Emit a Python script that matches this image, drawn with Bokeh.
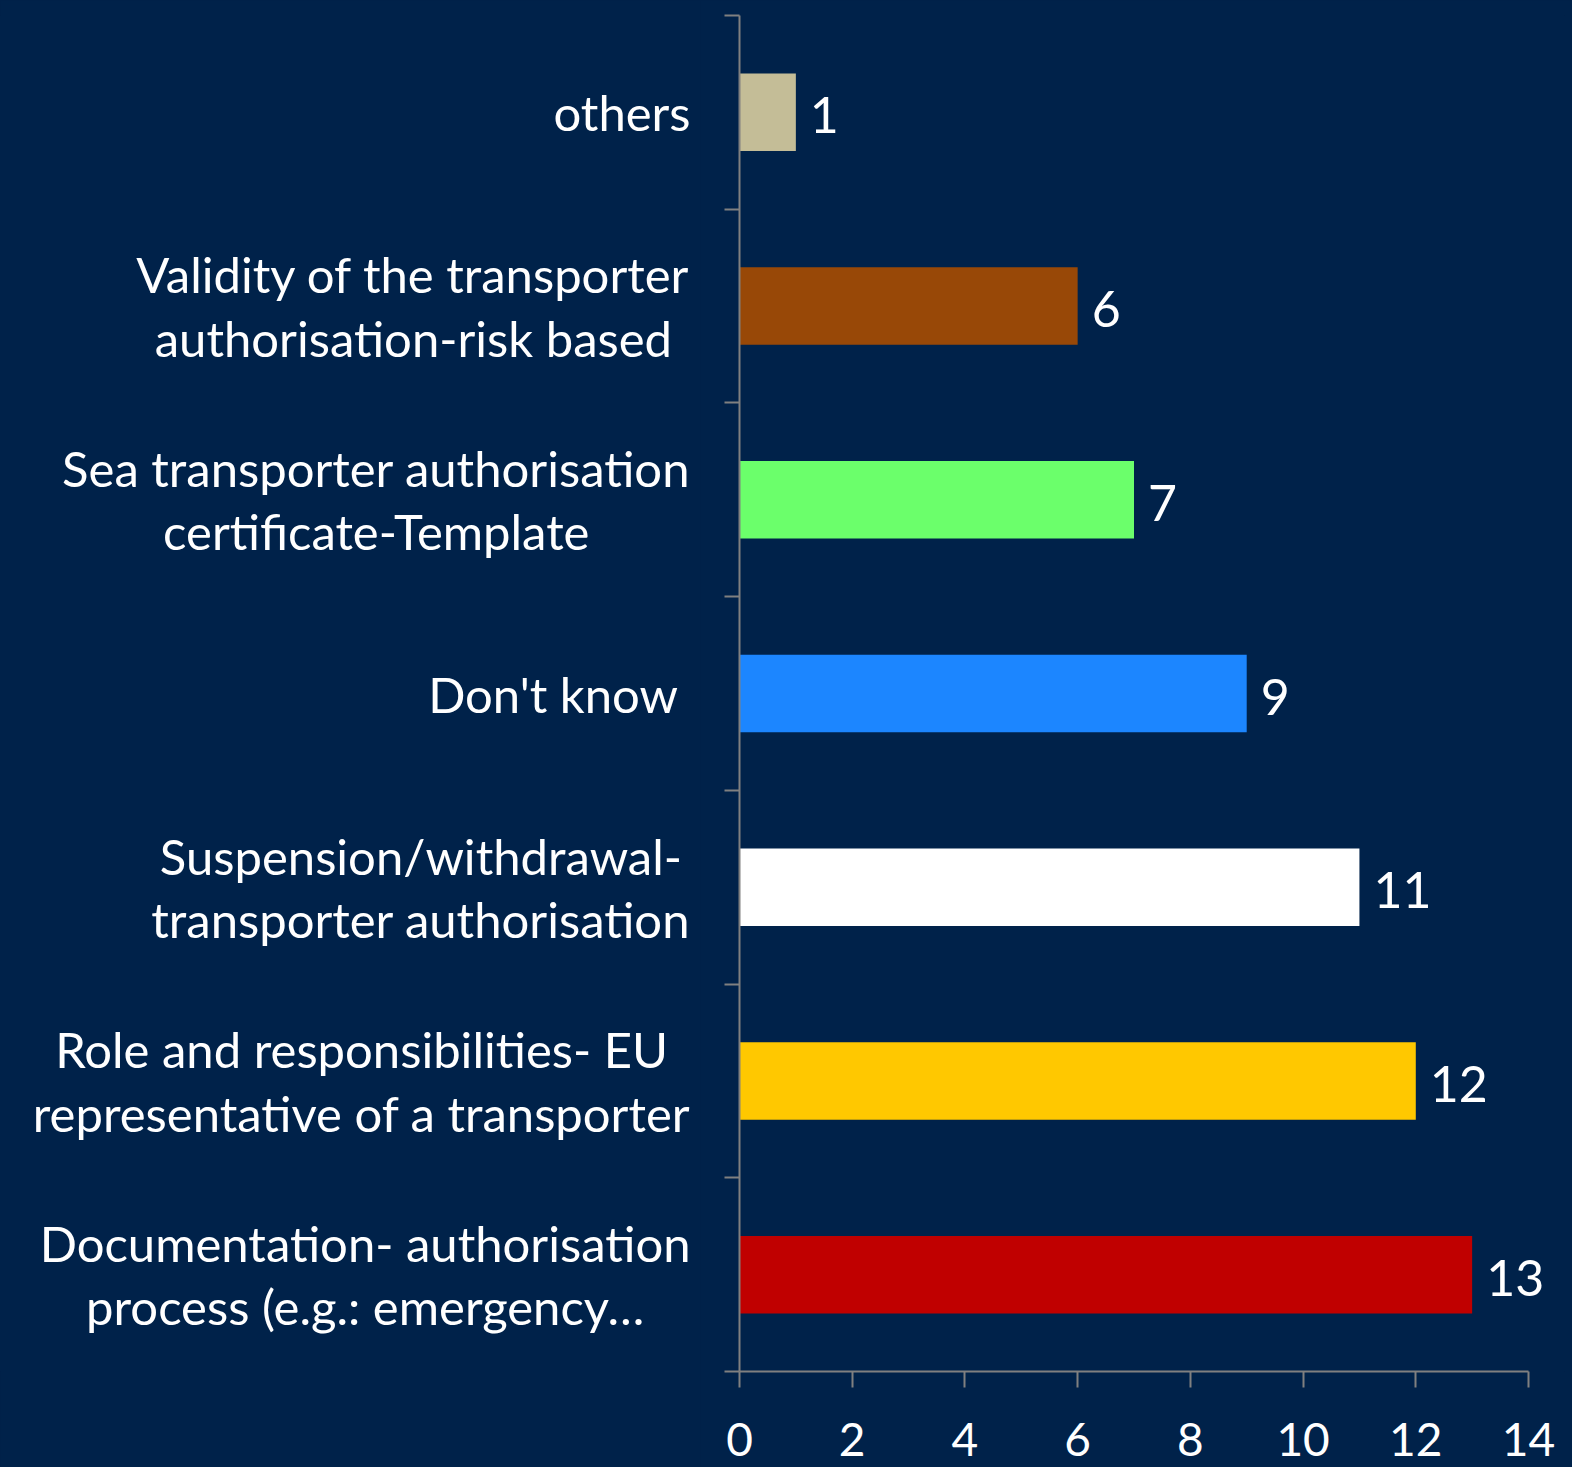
from bokeh.plotting import figure
from bokeh.layouts import row
from bokeh.models import Range1d, FixedTicker, Label, ColumnDataSource
from bokeh.core.properties import value
from bokeh.embed import file_html
from bokeh.resources import INLINE

# ---- data (top to bottom, as in the chart) ----
categories = [
    "others",
    "Validity of the transporter\nauthorisation-risk based",
    "Sea transporter authorisation\ncertificate-Template",
    "Don't know ",
    "Suspension/withdrawal-\ntransporter authorisation",
    "Role and responsibilities- EU\nrepresentative of a transporter",
    "Documentation- authorisation\nprocess (e.g.: emergency\u2026",
]
values = [1, 6, 7, 9, 11, 12, 13]
bar_colors = ["#C4BD97", "#984807", "#6BFF6B", "#1C86FF", "#FFFFFF", "#FFC800", "#C00000"]
x_ticks = [0, 2, 4, 6, 8, 10, 12, 14]
x_max = 14

# ---- layout / style ----
BG = "#00224A"
AXIS = "#808080"
FONT = "Lato"
H = 1467
LABEL_W = 700            # width of the category-label panel
LABEL_RIGHT = 690        # right edge of the category text blocks
CHART_W = 872
LEFT, RIGHT, TOP, BOTTOM = 39, 8, 15, 96
ppu = 789 / x_max                             # pixels per unit along x
x_view = (CHART_W - LEFT - RIGHT) / ppu       # visible data extent (room for value labels)

n = len(categories)
y_pos = [n - 0.5 - i for i in range(n)]
y_range = Range1d(0, n)

bg_style = {"background-color": BG}

# ---- chart ----
p = figure(width=CHART_W, height=H, x_range=Range1d(0, x_view), y_range=y_range,
           output_backend="svg", toolbar_location=None,
           min_border_left=LEFT, min_border_right=RIGHT, min_border_top=TOP,
           min_border_bottom=BOTTOM, styles=bg_style)
p.background_fill_color = BG
p.border_fill_color = BG
p.outline_line_color = None
p.grid.visible = False

src = ColumnDataSource(dict(y=y_pos, v=values, c=bar_colors))
p.hbar(y="y", left=0, right="v", height=0.4, fill_color="c", line_color=None, source=src)

# x axis
xa = p.xaxis[0]
xa.ticker = FixedTicker(ticks=x_ticks)
xa.bounds = (0, x_max)
xa.axis_line_color = AXIS
xa.axis_line_width = 2
xa.major_tick_line_color = AXIS
xa.major_tick_line_width = 2
xa.major_tick_out = 16
xa.major_tick_in = 0
xa.minor_tick_line_color = None
xa.major_label_text_font = FONT
xa.major_label_text_font_size = "46px"
xa.major_label_text_color = "white"
xa.major_label_standoff = 35

# y axis: tick marks at the category boundaries only
ya = p.yaxis[0]
ya.ticker = FixedTicker(ticks=[], minor_ticks=list(range(n + 1)))
ya.axis_line_color = AXIS
ya.axis_line_width = 2
ya.minor_tick_line_color = AXIS
ya.minor_tick_line_width = 2
ya.minor_tick_out = 15
ya.minor_tick_in = 0

# value labels
for v, yp in zip(values, y_pos):
    p.add_layout(Label(x=v, y=yp, x_offset=14, y_offset=-3, text=str(v), text_align="left",
                       text_baseline="middle", text_font=FONT, text_font_size="50px",
                       text_color="white"))

# ---- category label panel (shares the y scale) ----
lp = figure(width=LABEL_W, height=H, x_range=Range1d(0, LABEL_W), y_range=y_range,
            output_backend="svg", toolbar_location=None,
            x_axis_location=None, y_axis_location=None,
            min_border_left=0, min_border_right=0, min_border_top=TOP,
            min_border_bottom=BOTTOM, styles=bg_style)
lp.background_fill_color = BG
lp.border_fill_color = BG
lp.outline_line_color = None
lp.grid.visible = False
lsrc = ColumnDataSource(dict(y=y_pos, t=categories, x=[LABEL_RIGHT] * n))
lp.text(x="x", y="y", text="t", source=lsrc, text_align="center", anchor="center_right",
        text_baseline="middle", text_font=value(FONT), text_font_size="49px",
        text_color="white", text_line_height=1.09)

layout = row(lp, p, spacing=0, styles=bg_style)
open("out.html", "w").write(file_html(layout, INLINE))
